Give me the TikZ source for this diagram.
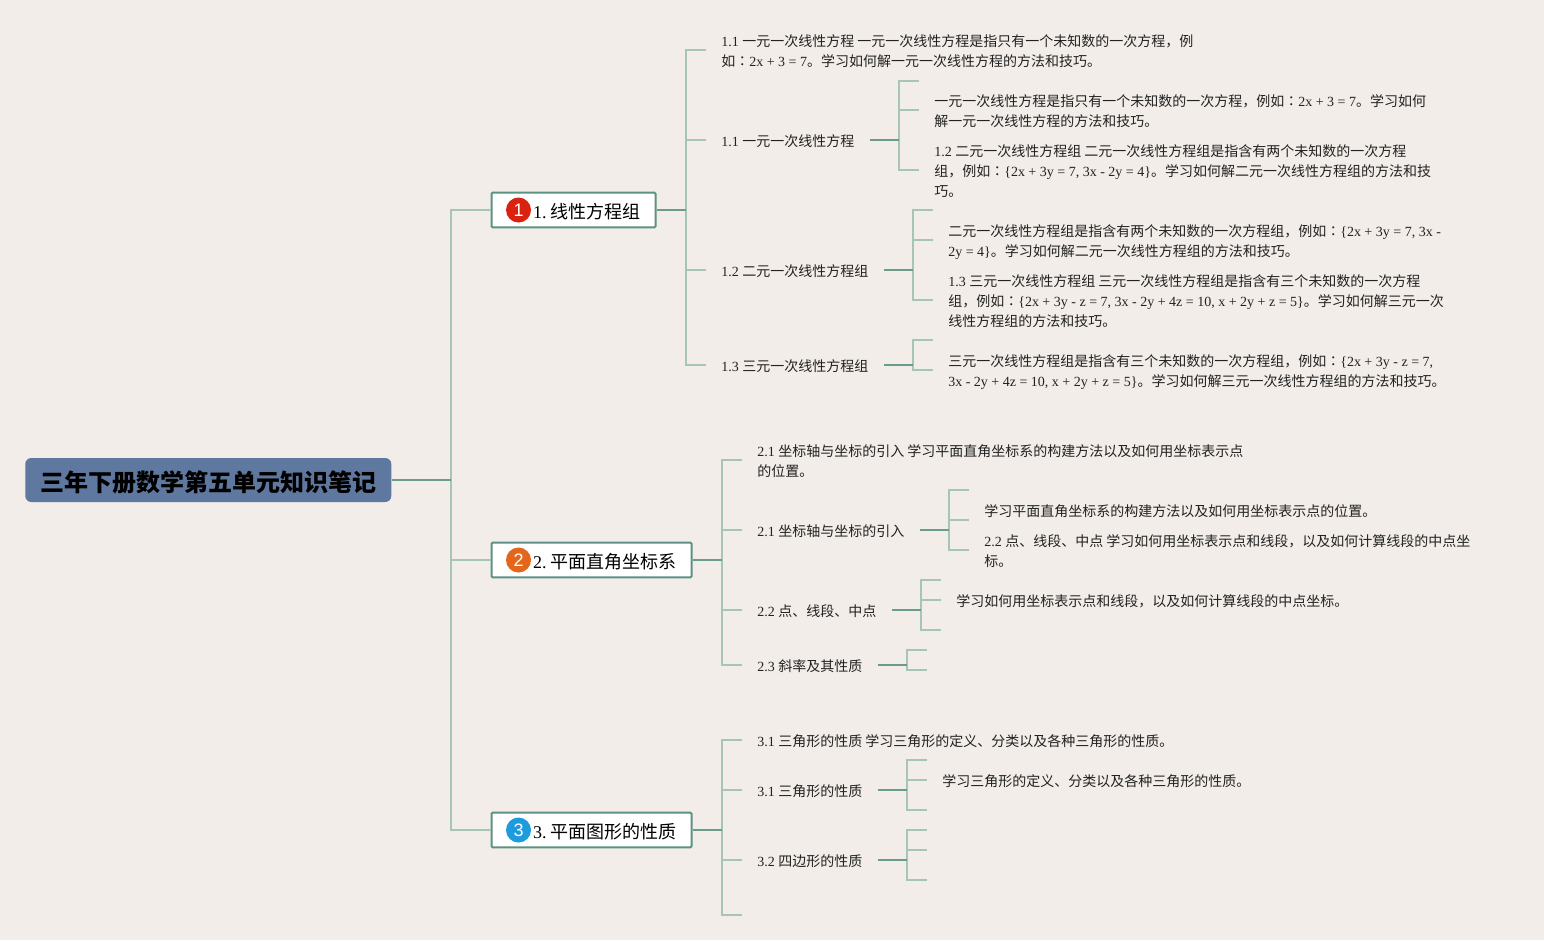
\documentclass[tikz,border=0pt]{standalone}
\usepackage{fontspec}
\setmainfont{Liberation Serif}
\setsansfont{Liberation Sans}
\newfontfamily\cjk{Noto Sans CJK SC}
\newfontfamily\cjkcolon{Noto Sans CJK TC}
\newcommand{\zh}[1]{{\cjk #1}}
\newcommand{\zhcolon}{{\cjkcolon ：}}
\frenchspacing
\usetikzlibrary{positioning, calc}
\definecolor{paper}{HTML}{F2EDE8}
\definecolor{rootblue}{HTML}{5F789F}
\definecolor{linedark}{HTML}{6A9C8D}
\definecolor{linelight}{HTML}{A4C5B7}
\definecolor{boxline}{HTML}{5C9283}
\definecolor{inkdark}{HTML}{222222}
\tikzset{
    root/.style={
        rectangle,
        rounded corners=4.5pt,
        fill=rootblue,
        draw=none,
        minimum width=274.5pt,
        minimum height=33pt,
        inner sep=0pt,
        font=\fontsize{18}{22}\selectfont\bfseries
    },
    topic/.style={
        rectangle,
        draw=boxline,
        line width=1.5pt,
        rounded corners=0.8pt,
        fill=white,
        minimum height=26pt,
        inner xsep=0pt,
        inner ysep=0pt,
        align=left,
        font=\fontsize{13.5}{16}\selectfont
    },
    badge/.style={
        circle,
        draw=none,
        minimum size=18.75pt,
        inner sep=0pt,
        text=white,
        font=\fontsize{13.5}{14}\selectfont\sffamily
    },
    leaf/.style={
        rectangle,
        draw=none,
        anchor=west,
        inner xsep=11.25pt,
        inner ysep=0pt,
        align=left,
        text=inkdark,
        font=\fontsize{10.5}{15}\selectfont
    },
    stem/.style={
        draw=linedark,
        line width=1.2pt
    },
    twig/.style={
        draw=linelight,
        line width=1pt
    },
}
\begin{document}
\begin{tikzpicture}[x=0.75pt,y=-0.75pt]

\fill[paper] (0,0) rectangle (1544,940);
\useasboundingbox (0,0) rectangle (1544,940);

% Root
\node[root, anchor=west] (root) at (25,480) {\rule{0pt}{19.5pt}\zh{三年下册数学第五单元知识笔记}};

% Topics
\node[topic, anchor=west, minimum width=123pt, text width=123pt] (t1) at (490.5,210) {\rule{0pt}{13.5pt}\hspace*{31.2pt}1.\hspace{2.6pt}\zh{线性方程组}};
\node[topic, anchor=west, minimum width=150pt, text width=150pt] (t2) at (490.5,560) {\rule{0pt}{13.5pt}\hspace*{31.2pt}2.\hspace{2.6pt}\zh{平面直角坐标系}};
\node[topic, anchor=west, minimum width=150pt, text width=150pt] (t3) at (490.5,830) {\rule{0pt}{13.5pt}\hspace*{31.2pt}3.\hspace{2.6pt}\zh{平面图形的性质}};
\node[badge, fill={rgb,255:red,217;green,35;blue,15}] (b1) at (518.5,210) {1};
\node[badge, fill={rgb,255:red,227;green,102;blue,26}] (b2) at (518.5,560) {2};
\node[badge, fill={rgb,255:red,30;green,155;blue,220}] (b3) at (518.5,830) {3};

% Topic 1
\node[leaf] (a1) at (706,51) {1.1 \zh{一元一次线性方程 一元一次线性方程是指只有一个未知数的一次方程，例}\\\zh{如}\zhcolon 2x + 3 = 7\zh{。学习如何解一元一次线性方程的方法和技巧。}};
\node[leaf] (a2) at (706,141) {1.1 \zh{一元一次线性方程}};
\node[leaf] (a3) at (706,271) {1.2 \zh{二元一次线性方程组}};
\node[leaf] (a4) at (706,366) {1.3 \zh{三元一次线性方程组}};

\node[leaf] (a21) at (919,111.5) {\zh{一元一次线性方程是指只有一个未知数的一次方程，例如}\zhcolon 2x + 3 = 7\zh{。学习如何}\\\zh{解一元一次线性方程的方法和技巧。}};
\node[leaf] (a22) at (919,171) {1.2 \zh{二元一次线性方程组 二元一次线性方程组是指含有两个未知数的一次方程}\\\zh{组，例如}\zhcolon\{2x + 3y = 7, 3x - 2y = 4\}\zh{。学习如何解二元一次线性方程组的方法和技}\\\zh{巧。}};
\node[leaf] (a31) at (933,242) {\zh{二元一次线性方程组是指含有两个未知数的一次方程组，例如}\zhcolon\{2x + 3y = 7, 3x -\\2y = 4\}\zh{。学习如何解二元一次线性方程组的方法和技巧。}};
\node[leaf] (a32) at (933,301) {1.3 \zh{三元一次线性方程组 三元一次线性方程组是指含有三个未知数的一次方程}\\\zh{组，例如}\zhcolon\{2x + 3y - z = 7, 3x - 2y + 4z = 10, x + 2y + z = 5\}\zh{。学习如何解三元一次}\\\zh{线性方程组的方法和技巧。}};
\node[leaf] (a41) at (933,372) {\zh{三元一次线性方程组是指含有三个未知数的一次方程组，例如}\zhcolon\{2x + 3y - z = 7,\\3x - 2y + 4z = 10, x + 2y + z = 5\}\zh{。学习如何解三元一次线性方程组的方法和技巧。}};

% Topic 2
\node[leaf] (c1) at (742,461) {2.1 \zh{坐标轴与坐标的引入 学习平面直角坐标系的构建方法以及如何用坐标表示点}\\\zh{的位置。}};
\node[leaf] (c2) at (742,531) {2.1 \zh{坐标轴与坐标的引入}};
\node[leaf] (c3) at (742,611) {2.2 \zh{点、线段、中点}};
\node[leaf] (c4) at (742,666) {2.3 \zh{斜率及其性质}};

\node[leaf] (c21) at (969,511) {\zh{学习平面直角坐标系的构建方法以及如何用坐标表示点的位置。}};
\node[leaf] (c22) at (969,551) {2.2 \zh{点、线段、中点 学习如何用坐标表示点和线段，以及如何计算线段的中点坐}\\\zh{标。}};
\node[leaf] (c31) at (941,601) {\zh{学习如何用坐标表示点和线段，以及如何计算线段的中点坐标。}};

% Topic 3
\node[leaf] (e1) at (742,741) {3.1 \zh{三角形的性质 学习三角形的定义、分类以及各种三角形的性质。}};
\node[leaf] (e2) at (742,791) {3.1 \zh{三角形的性质}};
\node[leaf] (e3) at (742,861) {3.2 \zh{四边形的性质}};
\node[leaf] (e21) at (927,781) {\zh{学习三角形的定义、分类以及各种三角形的性质。}};

% Free ends and joints
\coordinate (rootbus) at (451,480);
\coordinate (t1bus) at (686,210);
\coordinate (t2bus) at (722,560);
\coordinate (t3bus) at (722,830);
\coordinate (a2bus) at (899,140);
\coordinate (a3bus) at (913,270);
\coordinate (a4bus) at (913,365);
\coordinate (c2bus) at (949,530);
\coordinate (c3bus) at (921,610);
\coordinate (c4bus) at (907,665);
\coordinate (e2bus) at (907,790);
\coordinate (e3bus) at (907,860);
\coordinate (a2f) at (919,81);
\coordinate (a3f) at (933,210);
\coordinate (a4f) at (933,340);
\coordinate (c2f) at (969,490);
\coordinate (c2g) at (969,520);
\coordinate (c3f) at (941,580);
\coordinate (c3g) at (941,630);
\coordinate (c4f) at (927,650);
\coordinate (c4g) at (927,670);
\coordinate (e2f) at (927,760);
\coordinate (e2g) at (927,810);
\coordinate (e3f) at (927,830);
\coordinate (e3g) at (927,850);
\coordinate (e3h) at (927,880);
\coordinate (t3f) at (742,915);

% Twigs
\foreach \j/\k in {rootbus/t1.west, rootbus/t2.west, rootbus/t3.west}
    \draw[twig] (\j) |- (\k);
\foreach \j/\k in {t1bus/a1.west, t1bus/a2.west, t1bus/a3.west, t1bus/a4.west,
                   a2bus/a22.west,
                   a3bus/a32.west,
                   t2bus/c1.west, t2bus/c2.west, t2bus/c3.west, t2bus/c4.west,
                   c2bus/c22.west,
                   c3bus/c31.west,
                   t3bus/e1.west, t3bus/e2.west, t3bus/e3.west,
                   e2bus/e21.west}
    \draw[twig] (\j) |- ([yshift=0.75pt]\k);
\draw[twig] (a2bus) |- ([yshift=1.125pt]a21.west);
\draw[twig] (a3bus) |- ([yshift=1.5pt]a31.west);
\draw[twig] (a4bus) |- ([yshift=1.5pt]a41.west);
\foreach \j/\k in {a2bus/a2f, a3bus/a3f, a4bus/a4f,
                   c2bus/c2f, c2bus/c2g,
                   c3bus/c3f, c3bus/c3g,
                   c4bus/c4f, c4bus/c4g,
                   t3bus/t3f,
                   e2bus/e2f, e2bus/e2g,
                   e3bus/e3f, e3bus/e3g, e3bus/e3h}
    \draw[twig] (\j) |- (\k);

% Stems
\draw[stem] (root.east) -- (rootbus);
\draw[stem] (t1.east) -- (t1bus);
\draw[stem] (t2.east) -- (t2bus);
\draw[stem] (t3.east) -- (t3bus);
\foreach \j/\k in {a2/a2bus, a3/a3bus, a4/a4bus,
                   c2/c2bus, c3/c3bus, c4/c4bus,
                   e2/e2bus, e3/e3bus}
    \draw[stem] ([yshift=0.75pt]\j.east) -- (\k);

\end{tikzpicture}
\end{document}
